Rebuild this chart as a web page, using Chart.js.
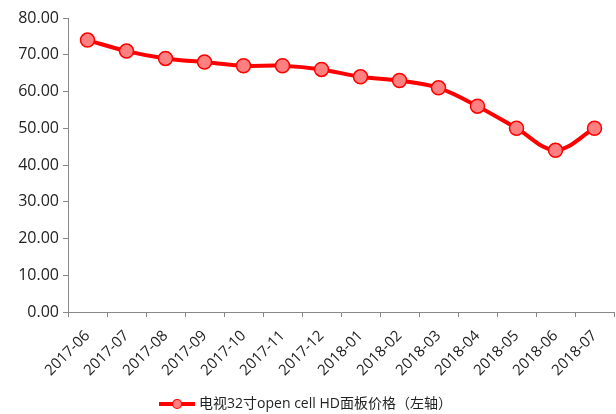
<!DOCTYPE html>
<html>
<head>
<meta charset="utf-8">
<script src="https://cdn.jsdelivr.net/npm/chart.js@4"></script>
<style>
  html, body { margin: 0; padding: 0; background: #fff; }
  #wrap { width: 616px; height: 414px; }
</style>
</head>
<body>
<div id="wrap"><canvas id="chart" width="616" height="414"></canvas></div>
<script>
const months = ['2017-06', '2017-07', '2017-08', '2017-09', '2017-10', '2017-11', '2017-12',
    '2018-01', '2018-02', '2018-03', '2018-04', '2018-05', '2018-06', '2018-07']
const panelPrice = [74, 71, 69, 68, 67, 67, 66, 64, 63, 61, 56, 50, 44, 50]
const seriesName = '电视32寸open cell HD面板价格（左轴）'

const FONT = "'Open Sans', 'Noto Sans CJK SC', sans-serif"

// legend marker: line with a circle in the middle
function legendMarker() {
    const c = document.createElement('canvas')
    c.width = 36
    c.height = 12
    const ctx = c.getContext('2d')
    ctx.strokeStyle = '#ff0000'
    ctx.lineWidth = 4
    ctx.beginPath()
    ctx.moveTo(0, 6)
    ctx.lineTo(36, 6)
    ctx.stroke()
    ctx.beginPath()
    ctx.arc(18, 6, 4.5, 0, Math.PI * 2)
    ctx.fillStyle = '#ff8080'
    ctx.fill()
    ctx.lineWidth = 1.2
    ctx.stroke()
    return c
}

Chart.defaults.font.family = FONT
Chart.defaults.color = '#222'

new Chart(document.querySelector('#chart'), {
    type: 'line',
    data: {
        labels: months,
        datasets: [{
            label: seriesName,
            data: panelPrice,
            borderColor: '#ff0000',
            borderWidth: 4,
            backgroundColor: '#ff8080',
            pointBackgroundColor: '#ff8080',
            pointBorderColor: '#ff0000',
            pointBorderWidth: 1.5,
            pointRadius: 7,
            tension: 0.35
        }]
    },
    options: {
        responsive: false,
        animation: false,
        layout: { autoPadding: false, padding: { left: 0, right: 2, top: 18, bottom: -7 } },
        plugins: {
            legend: {
                position: 'bottom',
                labels: {
                    font: { size: 14, family: FONT },
                    color: '#222',
                    usePointStyle: true,
                    pointStyleWidth: 30,
                    padding: 8,
                    generateLabels: chart => chart.data.datasets.map((ds, i) => ({
                        text: ds.label,
                        pointStyle: legendMarker(),
                        datasetIndex: i,
                        fontColor: '#222'
                    }))
                }
            },
            tooltip: { enabled: false }
        },
        scales: {
            x: {
                offset: true,
                afterFit: scale => {
                    scale.paddingRight = 0
                    scale.paddingLeft = 0
                    scale.height = 77
                },
                grid: {
                    display: true,
                    drawOnChartArea: false,
                    offset: true,
                    tickLength: 5,
                    color: '#888'
                },
                border: { color: '#888', width: 1 },
                ticks: {
                    minRotation: 45,
                    maxRotation: 45,
                    font: { size: 15 },
                    color: '#222',
                    padding: 10
                }
            },
            y: {
                min: 0,
                max: 80,
                afterFit: scale => { scale.width = 68 },
                grid: {
                    display: true,
                    drawOnChartArea: false,
                    tickLength: 5,
                    color: '#888'
                },
                border: { color: '#888', width: 1 },
                ticks: {
                    stepSize: 10,
                    font: { size: 16 },
                    color: '#222',
                    padding: 4,
                    callback: v => v.toFixed(2)
                }
            }
        }
    }
})
</script>
</body>
</html>
